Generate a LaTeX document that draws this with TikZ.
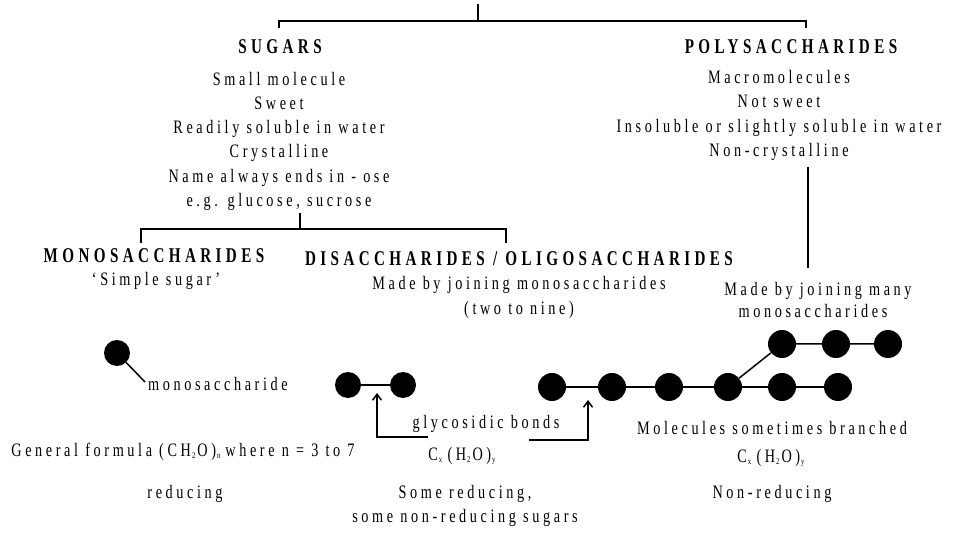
\documentclass[tikz,border=0pt]{standalone}
\usepackage{fontspec}
\setmainfont{Liberation Serif}[FakeStretch=0.75,LetterSpace=19]
\newfontfamily\hdfont{Liberation Serif}[FakeStretch=0.72,LetterSpace=21]
\usetikzlibrary{arrows.meta}
\newcommand\mysub[1]{\kern1pt\raisebox{-0.3ex}{\fontsize{9}{9}\selectfont #1}\kern2pt}
\tikzset{
  body/.style={font=\fontsize{19}{22}\selectfont, anchor=base, inner sep=0pt},
  head/.style={font=\hdfont\bfseries\fontsize{21}{24}\selectfont, anchor=base, inner sep=0pt},
  bracket/.style={line width=2pt},
  thin/.style={line width=1.5pt},
  mol/.style={circle, fill=black, inner sep=0pt, minimum size=26pt},
  pmol/.style={circle, fill=black, inner sep=0pt, minimum size=28pt},
  bondarrow/.style={line width=1.5pt, -{Straight Barb[length=6pt,width=9pt,line width=1.5pt]}},
}
\begin{document}
\begin{tikzpicture}[x=1pt,y=-1pt]
\useasboundingbox (0,0) rectangle (954,540);
% top bracket
\coordinate (top0) at (478,4);
\coordinate (topm) at (478,21);
\coordinate (topl) at (279,28);
\coordinate (topr) at (806,28);
\draw[bracket] (top0) -- (topm);
\draw[bracket] (topl) -- (topl |- topm) -- (topr |- topm) -- (topr);

% sugars
\node[head] (sugars) at (280,54) {SUGARS};
\node[body] (s1) at (279,86) {Small molecule};
\node[body] (s2) at (279,110) {Sweet};
\node[body] (s3) at (279,134) {Readily soluble in water};
\node[body] (s4) at (279,158) {Crystalline};
\node[body] (s5) at (279,183) {Name always ends in - ose};
\node[body] (s6) at (279,207) {e.g. glucose, sucrose};

% polysaccharides
\node[head] (poly) at (791,54) {POLYSACCHARIDES};
\node[body] (p1) at (779,84) {Macromolecules};
\node[body] (p2) at (779,108) {Not sweet};
\node[body] (p3) at (779,133) {Insoluble or slightly soluble in water};
\node[body] (p4) at (779,157) {Non-crystalline};

% sugar bracket
\coordinate (sb0) at (300,213);
\coordinate (sbm) at (300,229);
\coordinate (sbl) at (141,243);
\coordinate (sbr) at (506,243);
\draw[bracket] (sb0) -- (sbm);
\draw[bracket] (sbl) -- (sbl |- sbm) -- (sbr |- sbm) -- (sbr);

% poly vertical
\coordinate (pv0) at (808,167);
\coordinate (pv1) at (808,268);
\draw[thin] (pv0) -- (pv1);

% mono
\node[head] (mono) at (154,263) {MONOSACCHARIDES};
\node[body] (m1) at (156,286) {`Simple sugar'};
\node[mol] (mc) at (117,353) {};
\coordinate (mlab) at (145,382);
\draw[thin] (mc) -- (mlab);
\node[body, anchor=base west] (m2) at (148,390) {monosaccharide};
\node[body] (m3) at (183,456) {General formula (CH\mysub{2}O)\mysub{n}\kern3pt where n = 3 to 7};
\node[body] (m4) at (185,498) {reducing};

% di
\node[head] (di) at (519,266) {DISACCHARIDES / OLIGOSACCHARIDES};
\node[body] (d1) at (519,290) {Made by joining monosaccharides};
\node[body] (d2) at (519,315) {(two to nine)};
\node[mol] (da) at (348,385) {};
\node[mol] (db) at (403,385) {};
\draw[thin] (da) -- (db);
\node[body] (gb) at (486,428) {glycosidic bonds};
\coordinate (gl0) at (428,437);
\coordinate (gl1) at (377,437);
\coordinate (gl2) at (377,393);
\draw[bondarrow] (gl0) -- (gl1) -- (gl2);
\coordinate (gr0) at (529,440);
\coordinate (gr1) at (588,440);
\coordinate (gr2) at (588,400);
\draw[bondarrow] (gr0) -- (gr1) -- (gr2);
\node[body] (d3) at (463,460) {C\mysub{x}\,(H\mysub{2}O)\mysub{y}};
\node[body] (d4) at (465,498) {Some reducing,};
\node[body] (d5) at (465,522) {some non-reducing sugars};

% poly chain
\node[body] (pm1) at (818,296) {Made by joining many};
\node[body] (pm2) at (813,318) {monosaccharides};
\node[pmol] (c1) at (552,387) {};
\node[pmol] (c2) at (612,387) {};
\node[pmol] (c3) at (669,387) {};
\node[pmol] (c4) at (728,387) {};
\node[pmol] (c5) at (782,387) {};
\node[pmol] (c6) at (838,387) {};
\node[pmol] (u1) at (782,344) {};
\node[pmol] (u2) at (836,344) {};
\node[pmol] (u3) at (888,344) {};
\draw[thin] (c1) -- (c2) -- (c3) -- (c4) -- (c5) -- (c6);
\draw[thin] (c4) -- (u1) -- (u2) -- (u3);
\node[body] (pm3) at (772,434) {Molecules sometimes branched};
\node[body] (pm4) at (772,462) {C\mysub{x}\,(H\mysub{2}O)\mysub{y}};
\node[body] (pm5) at (772,498) {Non-reducing};
\end{tikzpicture}
\end{document}
